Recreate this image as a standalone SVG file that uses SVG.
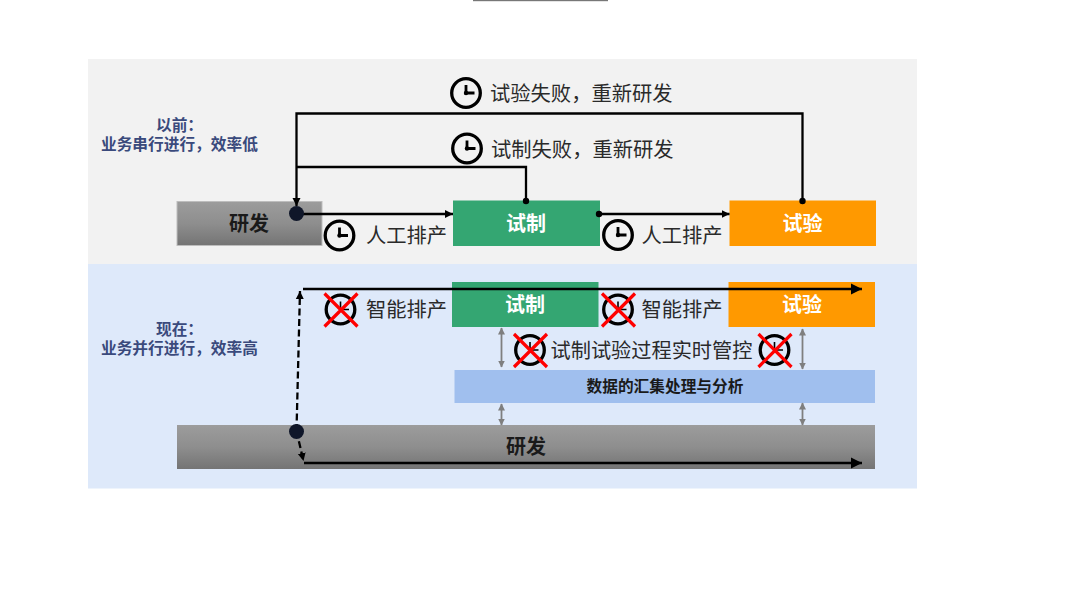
<svg xmlns="http://www.w3.org/2000/svg" width="1080" height="608" viewBox="0 0 1080 608">
<style>
text{font-family:"Noto Sans CJK SC","Noto Sans",sans-serif}
.lab{font-size:20.300px;fill:#2a2a2a}
.bw{font-size:20px;font-weight:700;fill:#fff;text-anchor:middle}
.bk{font-size:20px;font-weight:700;fill:#1a1a1a;text-anchor:middle}
.side{font-size:15.700px;font-weight:700;fill:#3a4a7c}
.line{fill:none;stroke:#000;stroke-width:2.300}
.dash{fill:none;stroke:#000;stroke-width:2.300;stroke-dasharray:7 3.500}
.gl{fill:none;stroke:#7f7f7f;stroke-width:1.800;marker-start:url(#ga);marker-end:url(#ga)}
.dot{fill:#000}
.hub{fill:#0f1629}
.ring{fill:none;stroke:#000;stroke-width:3.300}
.hand{fill:none;stroke:#000;stroke-width:2.800}
.x{stroke:#f00;stroke-width:3.200;fill:none}
</style>
<defs>
<linearGradient id="g" x1="0" y1="0" x2="0" y2="1"><stop offset="0" stop-color="#9c9c9c"/><stop offset="0.500" stop-color="#8e8e8e"/><stop offset="1" stop-color="#747474"/></linearGradient>
<marker id="a" markerUnits="userSpaceOnUse" markerWidth="9" markerHeight="9" refX="8" refY="4.500" orient="auto"><path d="M0 0.500L8 4.500L0 8.500z" fill="#000"/></marker>
<marker id="b" markerUnits="userSpaceOnUse" markerWidth="12" markerHeight="12" refX="11" refY="6" orient="auto"><path d="M0 0.500L11 6L0 11.500z" fill="#000"/></marker>
<marker id="ga" markerUnits="userSpaceOnUse" markerWidth="8" markerHeight="8" refX="6.500" refY="3.500" orient="auto-start-reverse"><path d="M0 0L7 3.500L0 7z" fill="#7f7f7f"/></marker>
<g id="clock"><circle class="ring" r="14.300"/><path class="hand" d="M0 -8V0H8.500"/><circle r="2.200" fill="#000"/></g>
<g id="xclock"><circle class="ring" r="14.300"/><path class="hand" d="M0 -8V0H8.500" style="stroke-width:1.600"/><path class="x" d="M-16 -16L17 17M17 -16L-16 17"/></g>
</defs>
<rect id="top-rule" x="473" y="0" width="135" height="1.200" fill="#777"/>
<g id="panels">
<rect x="88" y="59" width="829" height="205" fill="#f2f2f2"/>
<rect x="88" y="264" width="829" height="224.500" fill="#dee9fa"/>
</g>
<g id="side-before"><text class="side"><tspan x="156" y="130.500">以前：</tspan><tspan x="101" y="149.500">业务串行进行，效率低</tspan></text></g>
<g id="side-now"><text class="side"><tspan x="156" y="335">现在：</tspan><tspan x="101" y="354">业务并行进行，效率高</tspan></text></g>
<g id="node-rd-top"><rect x="177" y="201.500" width="145" height="44" fill="url(#g)" stroke="#bdbdbd" stroke-width="1"/><text class="bk" x="249" y="231">研发</text></g>
<g id="node-trial-top"><rect x="453" y="200.500" width="147" height="45.500" fill="#34a672"/><text class="bw" x="526" y="230.500">试制</text></g>
<g id="node-test-top"><rect x="729.500" y="200.500" width="146.500" height="45.500" fill="#ff9900"/><text class="bw" x="802.500" y="230.500">试验</text></g>
<g id="node-trial-now"><rect x="452" y="282" width="146.500" height="45" fill="#34a672"/><text class="bw" x="525" y="312">试制</text></g>
<g id="node-test-now"><rect x="728.500" y="282" width="146.500" height="45" fill="#ff9900"/><text class="bw" x="802" y="312">试验</text></g>
<g id="node-data"><rect x="454.500" y="370" width="420.500" height="33" fill="#a0bfee"/><text class="bk" x="665" y="392" style="font-size:15.700px">数据的汇集处理与分析</text></g>
<g id="node-rd-now"><rect x="177" y="425" width="698" height="44" fill="url(#g)"/><text class="bk" x="526" y="454">研发</text></g>
<g id="connectors">
<path class="line" d="M802.500 201V113.500H296.500V206" marker-end="url(#a)"/>
<path class="line" d="M526 201V167H297"/>
<path class="line" d="M297 214H453" marker-end="url(#a)"/>
<path class="line" d="M599 214H729.500" marker-end="url(#a)"/>
<path class="line" d="M303 289H862" marker-end="url(#b)"/>
<path class="line" d="M304 463H862" marker-end="url(#b)"/>
<path class="dash" d="M296.500 431L300 291" marker-end="url(#a)"/>
<path class="dash" d="M296.500 431L303.500 461" marker-end="url(#a)"/>
<path class="gl" d="M501.500 328V367"/>
<path class="gl" d="M802.500 329V369"/>
<path class="gl" d="M501.500 404V425"/>
<path class="gl" d="M802.500 403V425"/>
<circle class="hub" cx="296.500" cy="213.500" r="7.500"/>
<circle class="hub" cx="296.500" cy="431.500" r="7.500"/>
<circle class="dot" cx="526" cy="201" r="3.200"/>
<circle class="dot" cx="802.500" cy="201" r="3.200"/>
<circle class="dot" cx="599" cy="214" r="3.200"/>
</g>
<g id="label-test-fail"><use href="#clock" x="466" y="93"/><text class="lab" x="490" y="101">试验失败，重新研发</text></g>
<g id="label-trial-fail"><use href="#clock" x="467" y="148.500"/><text class="lab" x="491" y="156.500">试制失败，重新研发</text></g>
<g id="label-manual-1"><use href="#clock" x="339.500" y="235.500"/><text class="lab" x="366" y="243">人工排产</text></g>
<g id="label-manual-2"><use href="#clock" x="618" y="235"/><text class="lab" x="641.500" y="243">人工排产</text></g>
<g id="label-smart-1"><use href="#xclock" x="340.500" y="309.500"/><text class="lab" x="366" y="317">智能排产</text></g>
<g id="label-smart-2"><use href="#xclock" x="618" y="309.500"/><text class="lab" x="641.500" y="317">智能排产</text></g>
<g id="label-control"><use href="#xclock" x="530" y="350"/><text class="lab" x="550.500" y="357.500" style="font-size:20.200px">试制试验过程实时管控</text><use href="#xclock" x="774.500" y="350"/></g>
</svg>
